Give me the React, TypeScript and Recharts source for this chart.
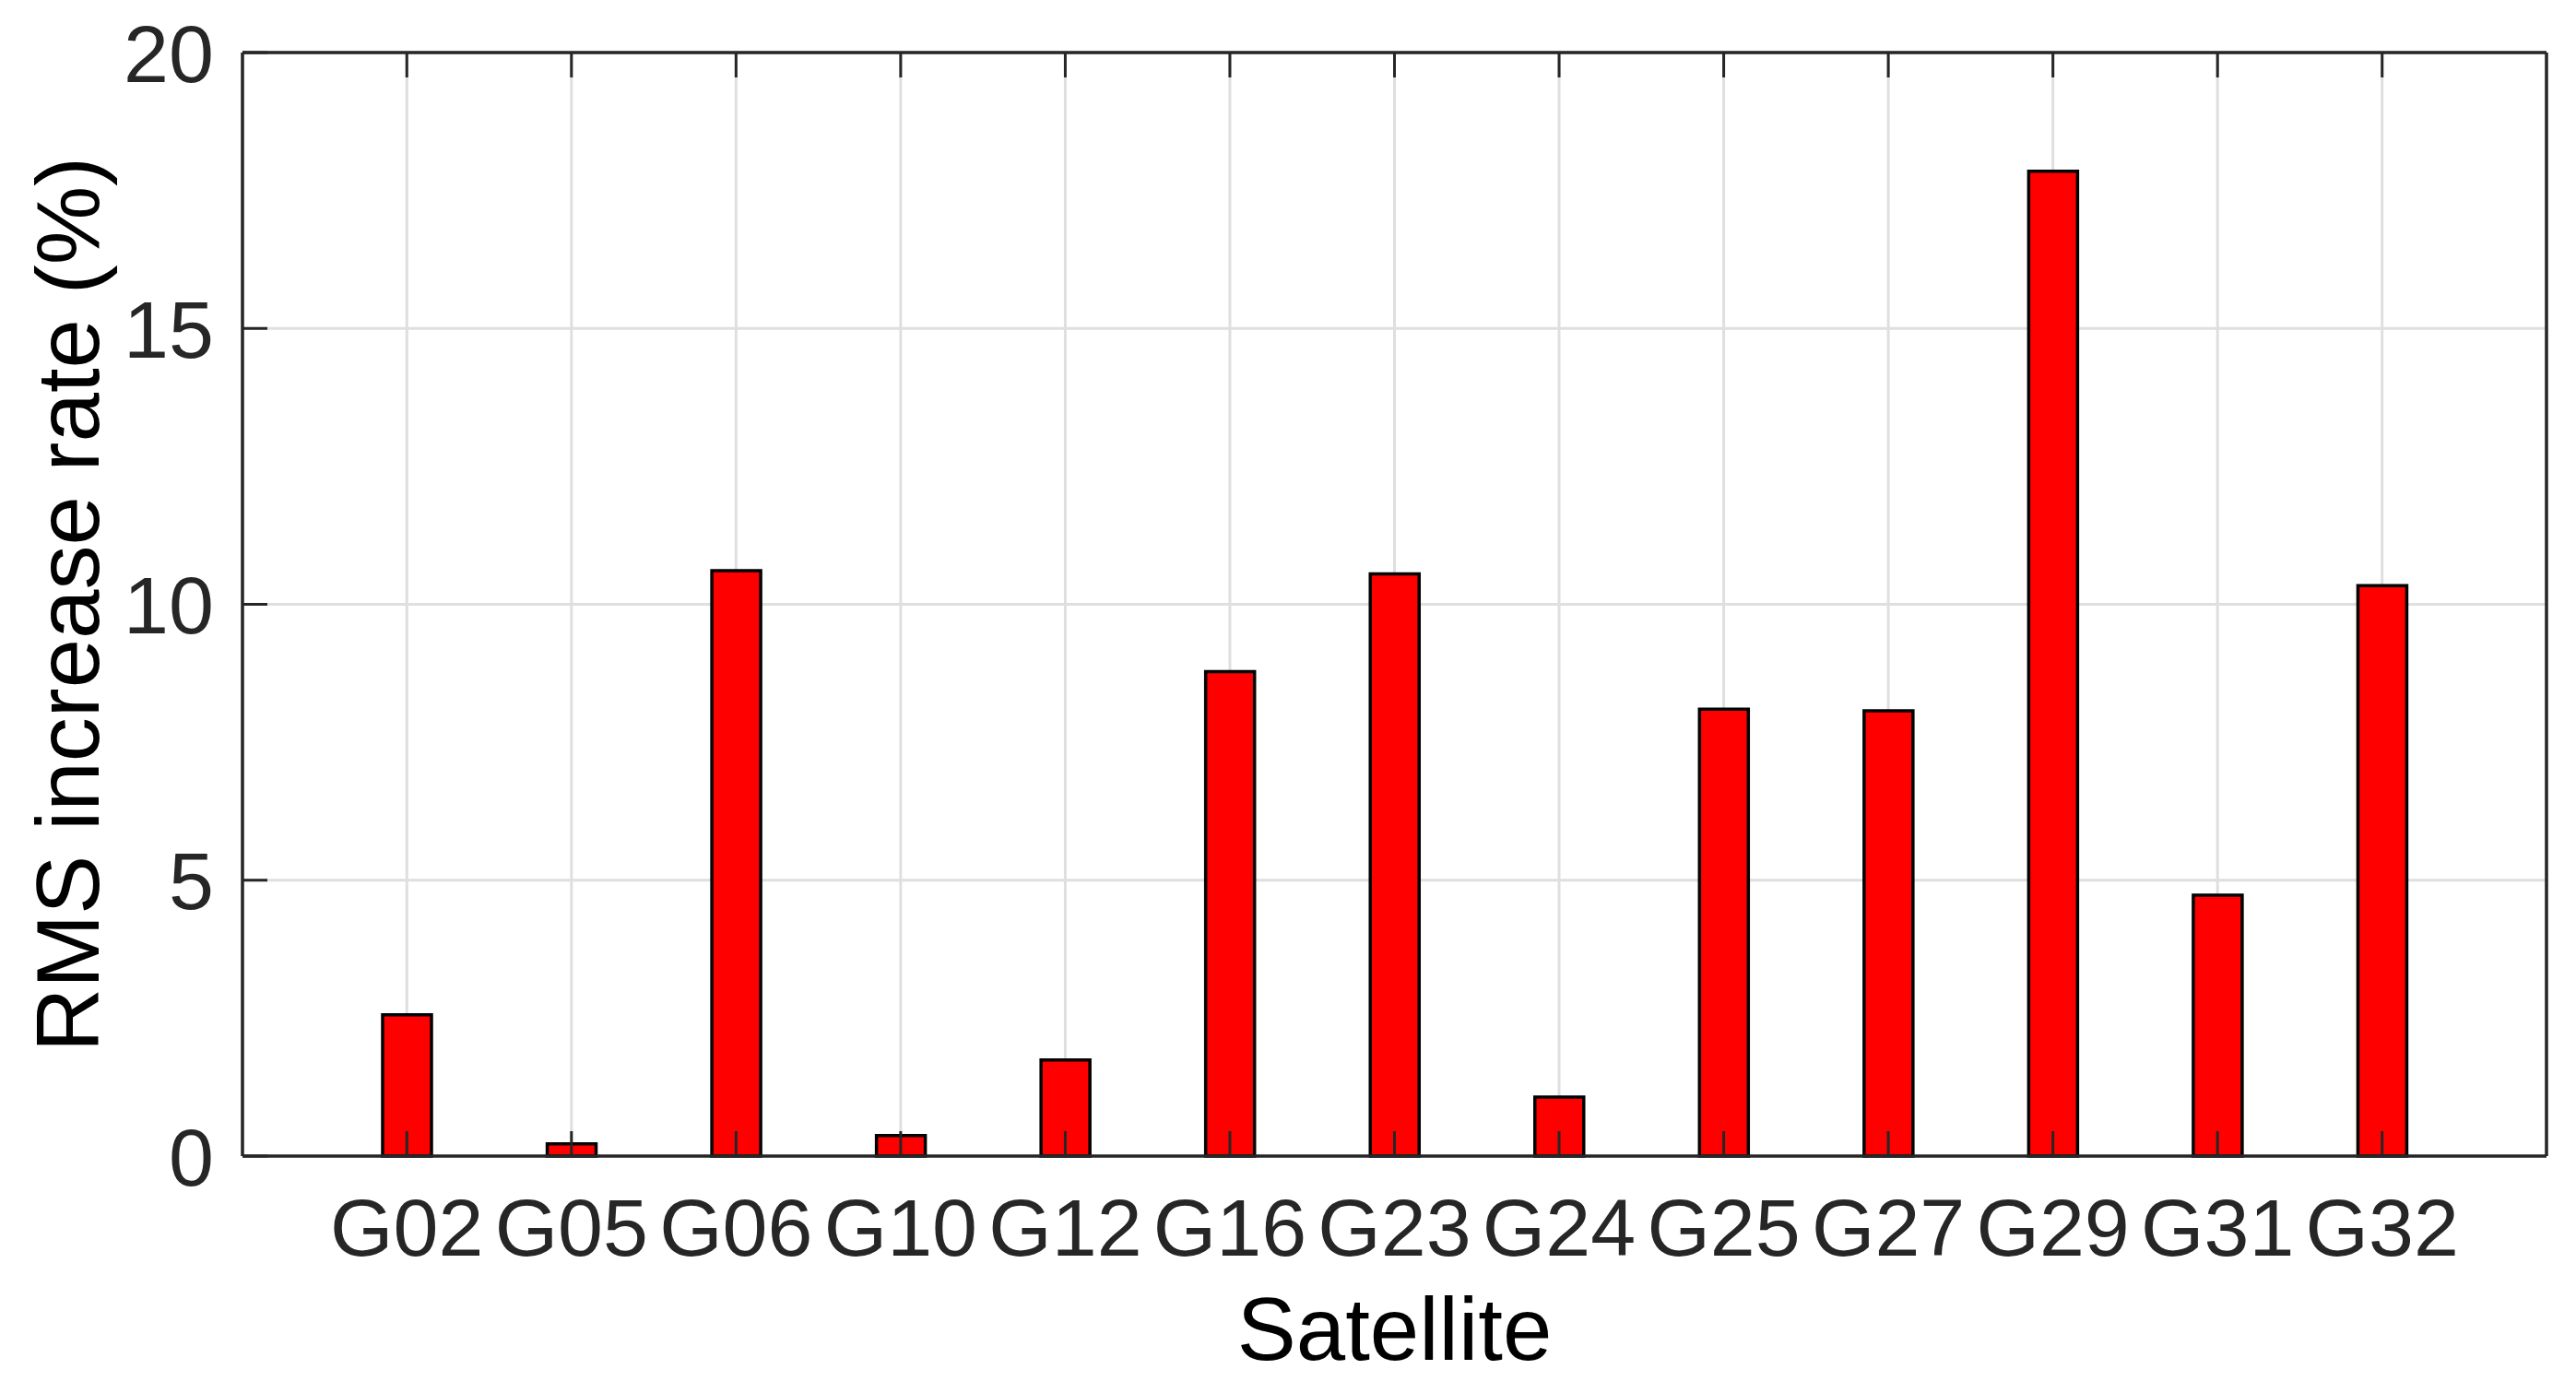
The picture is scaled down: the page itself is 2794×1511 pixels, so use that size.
import React from 'react';
import { BarChart, Bar, XAxis, YAxis, CartesianGrid, Label } from 'recharts';

const categories = ['G02', 'G05', 'G06', 'G10', 'G12', 'G16', 'G23', 'G24', 'G25', 'G27', 'G29', 'G31', 'G32'];
const rmsIncreaseRate = [2.56, 0.22, 10.61, 0.37, 1.74, 8.78, 10.55, 1.07, 8.1, 8.07, 17.85, 4.73, 10.34];
const yTicks = [0, 5, 10, 15, 20];
const xAxisTitle = 'Satellite';
const yAxisTitle = 'RMS increase rate (%)';

const data = categories.map((sat, i) => ({ sat, rate: rmsIncreaseRate[i] }));

const FONT = '"Liberation Sans", Arial, Helvetica, sans-serif';
const AXIS = '#262626';
const TICK_LEN = 27;

const BottomTick = (props: any) => {
  const { x, y, payload } = props;
  return (
    <g>
      <line x1={x} x2={x} y1={y} y2={y - TICK_LEN} stroke={AXIS} strokeWidth={3} />
      <text x={x} y={y + 108} textAnchor="middle" fontSize={88} fill={AXIS} fontFamily={FONT}>
        {payload.value}
      </text>
    </g>
  );
};

const TopTick = (props: any) => {
  const { x, y } = props;
  return <line x1={x} x2={x} y1={y} y2={y + TICK_LEN} stroke={AXIS} strokeWidth={3} />;
};

const LeftTick = (props: any) => {
  const { x, y, payload } = props;
  return (
    <g>
      <line x1={x} x2={x + TICK_LEN} y1={y} y2={y} stroke={AXIS} strokeWidth={3} />
      <text x={x - 31} y={y + 31.5} textAnchor="end" fontSize={88} fill={AXIS} fontFamily={FONT}>
        {payload.value}
      </text>
    </g>
  );
};

const RightTick = (props: any) => {
  const { x, y } = props;
  return <line x1={x} x2={x - TICK_LEN} y1={y} y2={y} stroke={AXIS} strokeWidth={3} />;
};

const XTitle = (props: any) => {
  const vb = props.viewBox || { x: 263, y: 1254, width: 2499, height: 257 };
  return (
    <text x={vb.x + vb.width / 2} y={vb.y + 221} textAnchor="middle" fontSize={96} fill="#000" fontFamily={FONT}>
      {xAxisTitle}
    </text>
  );
};

const YTitle = (props: any) => {
  const vb = props.viewBox || { x: 0, y: 57, width: 263, height: 1197 };
  const cx = vb.x + vb.width - 156;
  const cy = vb.y + vb.height / 2;
  return (
    <text
      x={cx}
      y={cy}
      transform={`rotate(-90, ${cx}, ${cy})`}
      textAnchor="middle"
      fontSize={96}
      fill="#000"
      fontFamily={FONT}
    >
      {yAxisTitle}
    </text>
  );
};

export default function App() {
  return (
    <div style={{ position: 'absolute', left: 0, top: 0, background: '#fff' }}>
      <BarChart
        width={2794}
        height={1511}
        data={data}
        margin={{ top: 56, right: 31, bottom: 0, left: 0 }}
      >
        <CartesianGrid stroke="#dfdfdf" strokeWidth={3} />
        <Bar
          dataKey="rate"
          fill="#ff0000"
          stroke="#000000"
          strokeWidth={3.5}
          barSize={53}
          isAnimationActive={false}
        />
        <XAxis
          dataKey="sat"
          type="category"
          height={257}
          padding={{ left: 89, right: 89 }}
          interval={0}
          tickSize={0}
          tickMargin={0}
          tickLine={false}
          axisLine={{ stroke: AXIS, strokeWidth: 3.5 }}
          tick={<BottomTick />}
        >
          <Label content={<XTitle />} />
        </XAxis>
        <XAxis
          xAxisId="top"
          orientation="top"
          dataKey="sat"
          type="category"
          height={1}
          padding={{ left: 89, right: 89 }}
          interval={0}
          tickSize={0}
          tickMargin={0}
          tickLine={false}
          axisLine={{ stroke: AXIS, strokeWidth: 3.5 }}
          tick={<TopTick />}
        />
        <YAxis
          width={263}
          domain={[0, 20]}
          ticks={yTicks}
          interval={0}
          tickSize={0}
          tickMargin={0}
          tickLine={false}
          axisLine={{ stroke: AXIS, strokeWidth: 3.5 }}
          tick={<LeftTick />}
        >
          <Label content={<YTitle />} />
        </YAxis>
        <YAxis
          yAxisId="right"
          orientation="right"
          width={1}
          domain={[0, 20]}
          ticks={yTicks}
          interval={0}
          tickSize={0}
          tickMargin={0}
          tickLine={false}
          axisLine={{ stroke: AXIS, strokeWidth: 3.5 }}
          tick={<RightTick />}
        />
      </BarChart>
    </div>
  );
}
